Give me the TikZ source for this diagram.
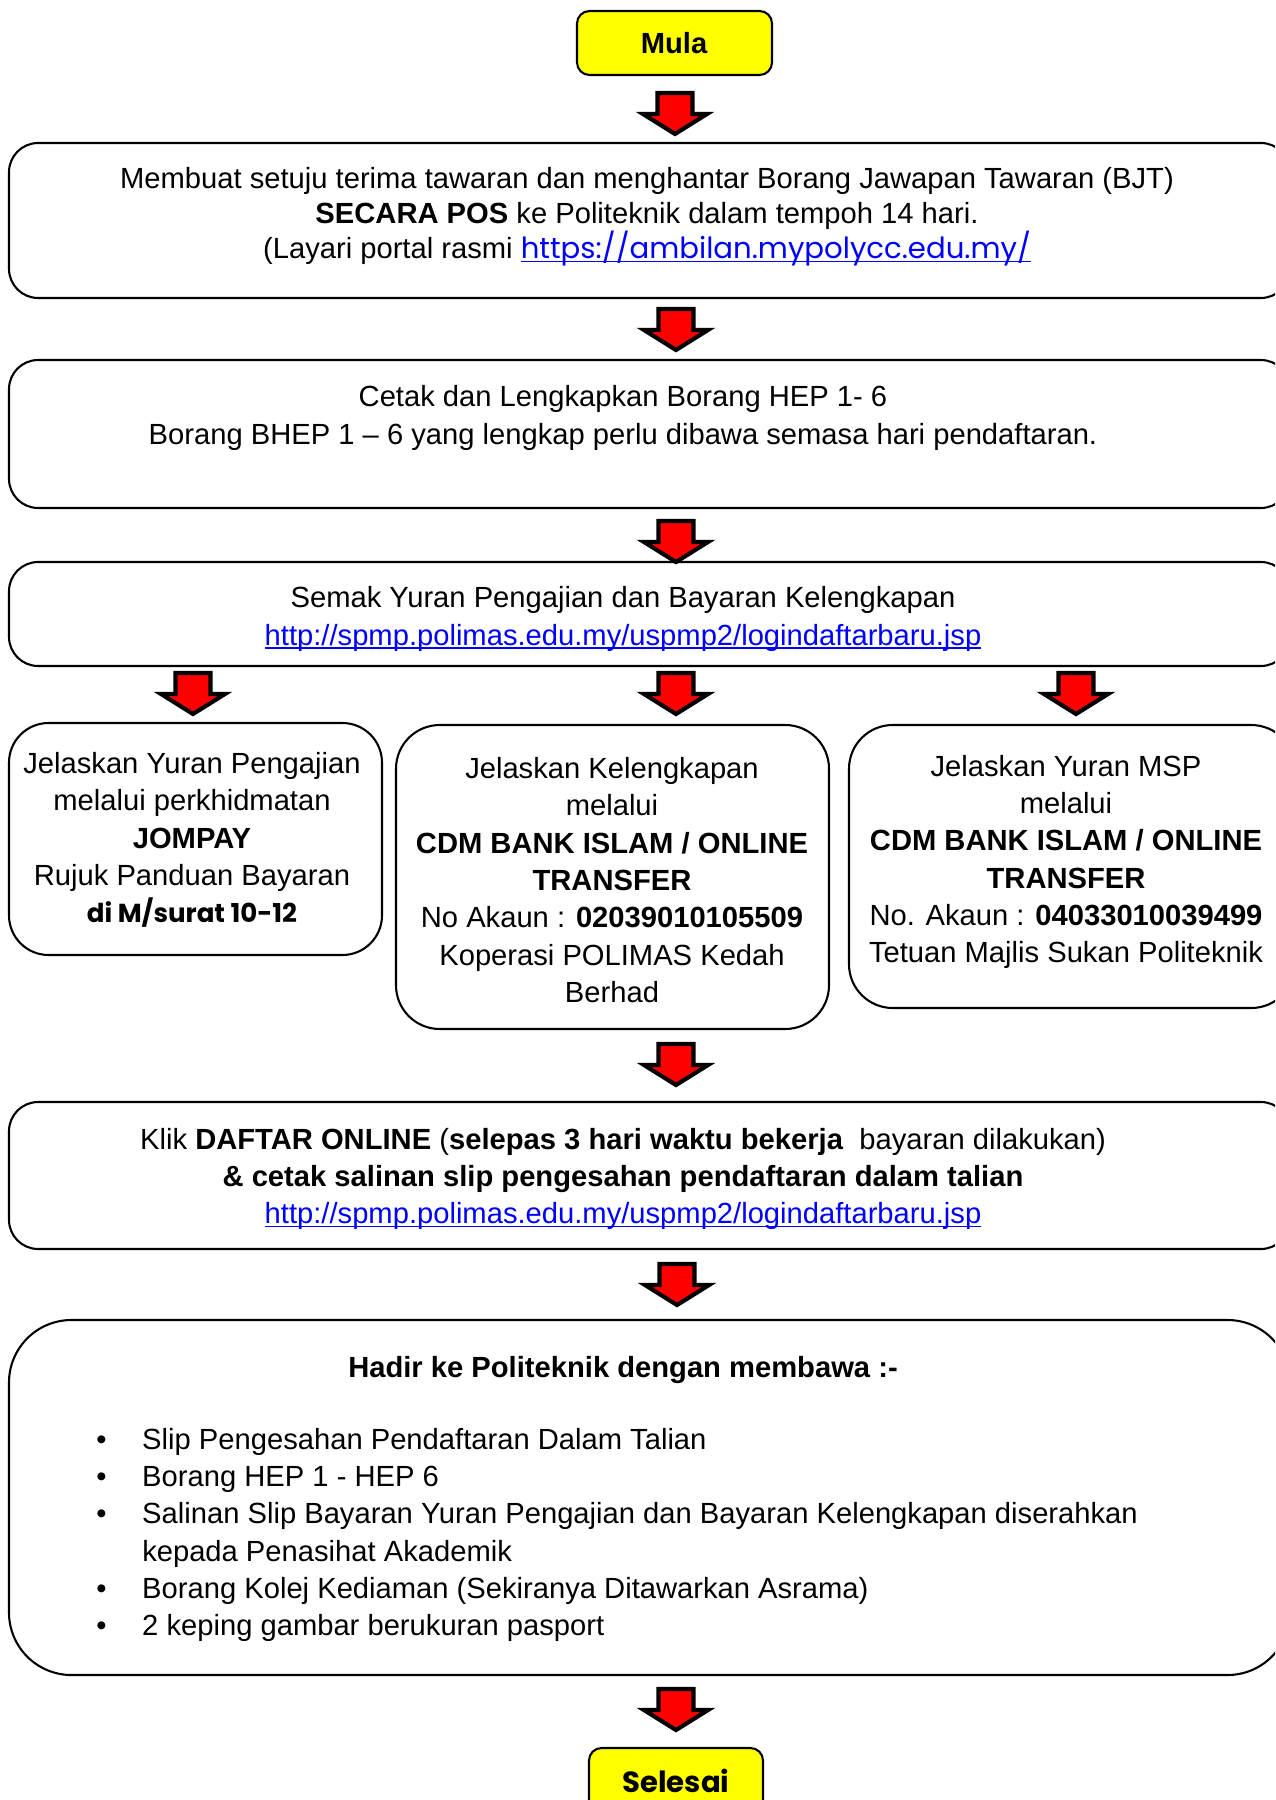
\documentclass[tikz,border=0pt]{standalone}
\usepackage{fontspec}
\setmainfont{Liberation Sans}
\newfontfamily\gothic{Poppins}
\usetikzlibrary{fit}
\definecolor{linkblue}{RGB}{0,0,255}
\definecolor{arrowred}{RGB}{255,0,0}
\definecolor{startyellow}{RGB}{255,255,0}
\newcommand{\lnk}[1]{\textcolor{linkblue}{\setbox0\hbox{#1}\rlap{\rule[-1.6pt]{\wd0}{0.6pt}}\box0}}
\tikzset{
  blockarrow/.pic={\draw[line width=2pt,fill=arrowred,line join=miter]
    (-17.5,0) -- (17.5,0) -- (17.5,21) -- (32,21) -- (0,41) -- (-32,21) -- (-17.5,21) -- cycle;},
  boxst/.style={draw,line width=1pt,inner sep=0pt,fit={#1}},
  termst/.style={draw,line width=1pt,fill=startyellow,inner sep=0pt,rounded corners=6pt,fit={#1}},
  txt/.style={align=center,inner sep=0pt,font=\fontsize{14}{17.9}\selectfont},
}
\begin{document}
\begin{tikzpicture}[x=0.48pt,y=-0.48pt]
\useasboundingbox (0,0) rectangle (1275,1800);
\clip (0,0) rectangle (1275,1800);
\fill[white] (0,0) rectangle (1275,1800);

% start
\node[termst={(577,11)(772,75)}] (mula) {};
\node[txt,font=\fontsize{14}{17}\selectfont\bfseries] (mulat) at (674,43) {Mula};
\pic at (675,93) {blockarrow};

% box 1
\node[boxst={(9,143)(1290,298)},rounded corners=14pt] (b1) {};
\node[txt,font=\fontsize{14}{16.9}\selectfont] (t1) at (647,217) {Membuat setuju terima tawaran dan menghantar Borang Jawapan Tawaran (BJT)\\
\textbf{SECARA POS} ke Politeknik dalam tempoh 14 hari.\\
(Layari portal rasmi {\gothic\lnk{https://ambilan.mypolycc.edu.my/}}};
\pic at (676,309) {blockarrow};

% box 2
\node[boxst={(9,360)(1290,508)},rounded corners=14pt] (b2) {};
\node[txt] (t2) at (623,418) {Cetak dan Lengkapkan Borang HEP 1- 6\\
Borang BHEP 1 -- 6 yang lengkap perlu dibawa semasa hari pendaftaran.};
\pic at (676,521) {blockarrow};

% box 3
\node[boxst={(9,562)(1290,666)},rounded corners=14pt] (b3) {};
\node[txt] (t3) at (623,619) {Semak Yuran Pengajian dan Bayaran Kelengkapan\\
\lnk{http://spmp.polimas.edu.my/uspmp2/logindaftarbaru.jsp}};
\pic at (193,673) {blockarrow};
\pic at (676,673) {blockarrow};
\pic at (1076,673) {blockarrow};

% box 4a
\node[boxst={(9,723)(382,955)},rounded corners=19pt] (b4a) {};
\node[txt] (t4a) at (192,840) {Jelaskan Yuran Pengajian\\
melalui perkhidmatan\\
\textbf{JOMPAY}\\
Rujuk Panduan Bayaran\\
{\gothic\bfseries\fontsize{12.5}{17.9}\selectfont di M/surat 10-12}};

% box 4b
\node[boxst={(396,725)(829,1029)},rounded corners=21pt] (b4b) {};
\node[txt] (t4b) at (612,880) {Jelaskan Kelengkapan\\
melalui\\
\textbf{CDM BANK ISLAM / ONLINE}\\
\textbf{TRANSFER}\\
No Akaun : \textbf{02039010105509}\\
Koperasi POLIMAS Kedah\\
Berhad};

% box 4c
\node[boxst={(849,725)(1295,1008)},rounded corners=21pt] (b4c) {};
\node[txt] (t4c) at (1066,862) {Jelaskan Yuran MSP\\
melalui\\
\textbf{CDM BANK ISLAM / ONLINE}\\
\textbf{TRANSFER}\\
No. Akaun : \textbf{04033010039499}\\
Tetuan Majlis Sukan Politeknik};
\pic at (676,1044) {blockarrow};

% box 5
\node[boxst={(9,1102)(1290,1249)},rounded corners=14pt] (b5) {};
\node[txt] (t5) at (623,1179) {Klik \textbf{DAFTAR ONLINE} (\textbf{selepas 3 hari waktu bekerja}\ \ bayaran dilakukan)\\
\textbf{\& cetak salinan slip pengesahan pendaftaran dalam talian}\\
\lnk{http://spmp.polimas.edu.my/uspmp2/logindaftarbaru.jsp}};
\pic at (677,1264) {blockarrow};

% box 6
\node[boxst={(9,1320)(1290,1675)},rounded corners=30pt] (b6) {};
\node[txt,font=\fontsize{14}{17.9}\selectfont\bfseries] (t6h) at (623,1370) {Hadir ke Politeknik dengan membawa :-};
\node[align=left,anchor=west,inner sep=0pt,font=\fontsize{14}{17.9}\selectfont] (t6l) at (96,1535) {%
\makebox[22pt][l]{•}Slip Pengesahan Pendaftaran Dalam Talian\\
\makebox[22pt][l]{•}Borang HEP 1 - HEP 6\\
\makebox[22pt][l]{•}Salinan Slip Bayaran Yuran Pengajian dan Bayaran Kelengkapan diserahkan\\
\makebox[22pt][l]{}kepada Penasihat Akademik\\
\makebox[22pt][l]{•}Borang Kolej Kediaman (Sekiranya Ditawarkan Asrama)\\
\makebox[22pt][l]{•}2 keping gambar berukuran pasport};
\pic at (676,1689) {blockarrow};

% end
\node[termst={(589,1748)(763,1830)}] (selesai) {};
\node[txt,font=\gothic\bfseries\fontsize{14}{17}\selectfont] (selesait) at (676,1781) {Selesai};
\end{tikzpicture}
\end{document}
